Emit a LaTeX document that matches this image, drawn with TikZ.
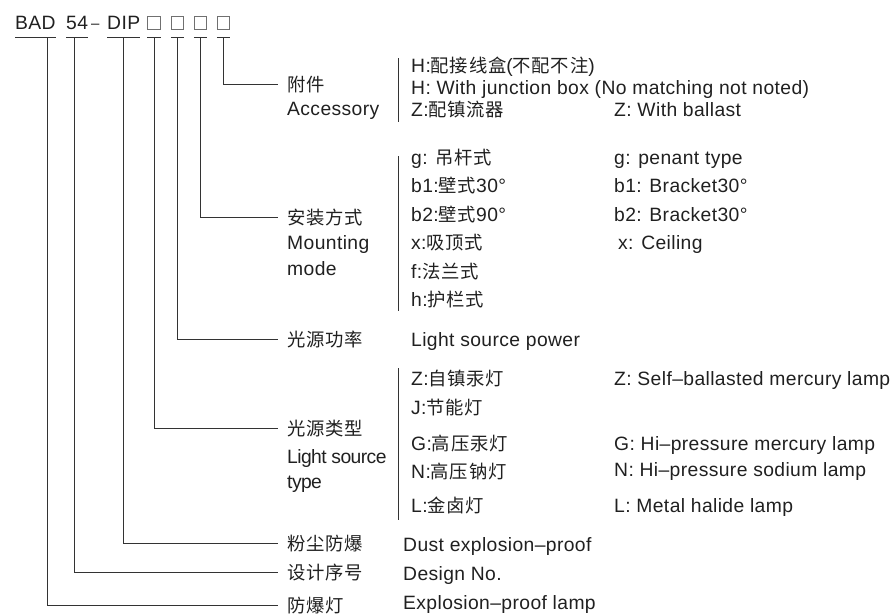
\documentclass[tikz,border=0pt]{standalone}
\usepackage{fontspec}
\setmainfont{Liberation Sans}[LetterSpace=2]
\newfontfamily\zhfont{Noto Sans CJK SC}[Scale=0.95, LetterSpace=4]
\newcommand\zh[1]{{\zhfont #1}}
\usepackage{xcolor}
\usetikzlibrary{positioning}
\definecolor{ink}{HTML}{202020}
\definecolor{wire}{HTML}{333333}
\definecolor{boxgray}{HTML}{707070}

\begin{document}
\begin{tikzpicture}[
  x=1pt, y=-1pt,
  font=\fontsize{19.3}{23}\selectfont, text=ink,
  link/.style={draw=wire, line width=0.9pt},
  bar/.style={draw=wire, line width=0.8pt},
  code/.style={anchor=base west, inner xsep=0pt, inner ysep=8pt},
  sq/.style={draw=boxgray, line width=0.7pt, minimum size=12.5pt, inner sep=0pt},
  lbl/.style={anchor=base west, inner xsep=9pt, inner ysep=0pt},
  txt/.style={anchor=base west, inner sep=0pt}
]
\useasboundingbox (0,0) rectangle (895,614);

% model code
\node[code] (bad) at (15,29) {BAD};
\node[code] (num) at (66,29) {54};
\node[txt, font=\fontsize{15}{18}\selectfont] (dash) at (91,28) {–};
\node[code] (dip) at (107,29) {DIP};
\foreach \name/\x in {sqa/154, sqb/177.5, sqc/200.5, sqd/223.5}
  \node[sq] (\name) at (\x,23) {};
\foreach \n in {bad,num,dip}
  \draw[link] (\n.south west) -- (\n.south east);
\foreach \n in {sqa,sqb,sqc,sqd}
  \draw[link] ([yshift=-7.75pt]\n.south west) -- ([yshift=-7.75pt]\n.south east);

% labels
\node[lbl] (acc) at (278,91) {\zh{附件}};
\node[txt] (accen) at (287,115) {Accessory};
\node[lbl] (mount) at (278,224) {\zh{安装方式}};
\node[txt] (mounten) at (287,249) {Mounting};
\node[txt] (mounten2) at (287,275) {mode};
\node[lbl] (power) at (278,346) {\zh{光源功率}};
\node[lbl] (ltype) at (278,435) {\zh{光源类型}};
\node[txt] (ltypeen) at (287,463) {\addfontfeature{LetterSpace=-3}Light source};
\node[txt] (ltypeen2) at (287,488) {\addfontfeature{LetterSpace=-3}type};
\node[lbl] (dust) at (278,550) {\zh{粉尘防爆}};
\node[lbl] (design) at (278,579) {\zh{设计序号}};
\node[lbl] (lamp) at (278,612) {\zh{防爆灯}};

% connectors
\draw[link] ([yshift=-7.75pt]sqd.south) |- (acc.west);
\draw[link] ([yshift=-7.75pt]sqc.south) |- (mount.west);
\draw[link] ([yshift=-7.75pt]sqb.south) |- (power.west);
\draw[link] ([yshift=-7.75pt]sqa.south) |- (ltype.west);
\draw[link] (dip.south) |- (dust.west);
\draw[link] ([xshift=-3pt]num.south) |- (design.west);
\draw[link] ([xshift=12.5pt]bad.south) |- (lamp.west);

% separator bars
\coordinate (acctop) at (398,58);
\coordinate (accbot) at (398,122);
\coordinate (mnttop) at (398,156);
\coordinate (mntbot) at (398,311);
\coordinate (typtop) at (398,368);
\coordinate (typbot) at (398,520);
\draw[bar] (acctop) -- (accbot);
\draw[bar] (mnttop) -- (mntbot);
\draw[bar] (typtop) -- (typbot);

% accessory
\node[txt] (acc1) at (411,72) {H:\zh{配接线盒}(\zh{不配不注})};
\node[txt] (acc2) at (411,94) {H: With junction box (No matching not noted)};
\node[txt] (acc3) at (411,116) {Z:\zh{配镇流器}};
\node[txt] (acc4) at (614,116) {Z: With ballast};

% mounting mode
\foreach \y/\t in {164/{g: \zh{吊杆式}}, 192/{b1:\zh{壁式}30°}, 221/{b2:\zh{壁式}90°},
                   249/{x:\zh{吸顶式}}, 278/{f:\zh{法兰式}}, 306/{h:\zh{护栏式}}}
  \node[txt] (mz\y) at (411,\y) {\t};
\foreach \y/\t in {164/{g: penant type}, 192/{b1: Bracket30°}, 221/{b2: Bracket30°}}
  \node[txt] (me\y) at (614,\y) {\t};
\node[txt] (me249) at (618,249) {x: Ceiling};

% light source
\node[txt] (poweren) at (411,346) {Light source power};
\foreach \y/\t in {385/{Z:\zh{自镇汞灯}}, 414/{J:\zh{节能灯}}, 450/{G:\zh{高压汞灯}},
                   478/{N:\zh{高压钠灯}}, 512/{L:\zh{金卤灯}}}
  \node[txt] (tz\y) at (411,\y) {\t};
\foreach \y/\t in {385/{Z: Self–ballasted mercury lamp}, 450/{G: Hi–pressure mercury lamp},
                   476/{N: Hi–pressure sodium lamp}, 512/{L: Metal halide lamp}}
  \node[txt] (te\y) at (614,\y) {\t};

% bottom labels
\node[txt] (dusten) at (403,551) {Dust explosion–proof};
\node[txt] (designen) at (403,580) {Design No.};
\node[txt] (lampen) at (403,609) {Explosion–proof lamp};
\end{tikzpicture}
\end{document}
